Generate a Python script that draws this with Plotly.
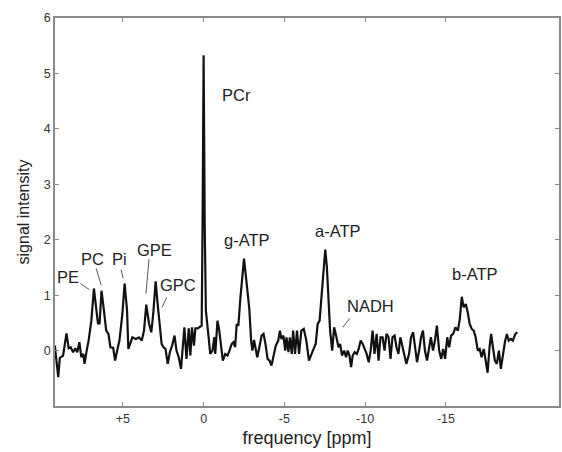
import plotly.graph_objects as go

# 31P spectrum (ppm, signal intensity)
ppm = [9.21, 9.00, 8.90, 8.70, 8.49, 8.35, 8.23, 8.08, 7.94, 7.82,
       7.69, 7.57, 7.45, 7.37, 7.24, 7.12, 6.95, 6.79, 6.65, 6.54,
       6.44, 6.32, 6.17, 6.03, 5.89, 5.77, 5.60, 5.48, 5.35, 5.21,
       5.03, 4.89, 4.74, 4.66, 4.41, 4.20, 4.00, 3.83, 3.69, 3.55,
       3.38, 3.24, 3.12, 2.97, 2.85, 2.73, 2.60, 2.48, 2.36, 2.22,
       2.09, 1.95, 1.80, 1.68, 1.54, 1.40, 1.19, 1.06, 0.92, 0.82,
       0.72, 0.60, 0.51, 0.37, 0.25, 0.12, 0.06, 0.00, -0.07, -0.14,
       -0.31, -0.41, -0.55, -0.66, -0.72, -0.86, -0.97, -1.09, -1.19, -1.34,
       -1.48, -1.60, -1.74, -1.85, -1.95, -2.05, -2.15, -2.28, -2.40, -2.50,
       -2.60, -2.73, -2.83, -2.94, -3.02, -3.12, -3.22, -3.32, -3.45, -3.59,
       -3.71, -3.83, -3.96, -4.08, -4.20, -4.35, -4.47, -4.62, -4.72, -4.82,
       -4.94, -5.05, -5.13, -5.25, -5.34, -5.46, -5.54, -5.66, -5.78, -5.91,
       -6.05, -6.20, -6.36, -6.52, -6.66, -6.81, -6.94, -7.06, -7.18, -7.30,
       -7.43, -7.53, -7.63, -7.74, -7.83, -7.96, -8.08, -8.20, -8.35, -8.45,
       -8.57, -8.70, -8.82, -8.92, -9.03, -9.13, -9.23, -9.35, -9.48, -9.60,
       -9.72, -9.85, -9.97, -10.09, -10.22, -10.34, -10.46, -10.58, -10.71, -10.83,
       -10.95, -11.08, -11.20, -11.32, -11.45, -11.57, -11.69, -11.82, -11.94, -12.06,
       -12.18, -12.31, -12.43, -12.55, -12.72, -12.84, -12.97, -13.09, -13.21, -13.34,
       -13.46, -13.58, -13.70, -13.83, -13.95, -14.07, -14.20, -14.32, -14.44, -14.58,
       -14.71, -14.83, -14.95, -15.08, -15.20, -15.32, -15.45, -15.59, -15.74, -15.86,
       -15.98, -16.10, -16.23, -16.35, -16.47, -16.60, -16.72, -16.84, -16.97, -17.09,
       -17.21, -17.34, -17.46, -17.58, -17.70, -17.80, -17.91, -18.03, -18.15, -18.28,
       -18.40, -18.52, -18.65, -18.77, -18.89, -19.02, -19.14, -19.30, -19.42]

intensity = [0.09, -0.48, -0.13, -0.09, 0.31, 0.04, 0.06, -0.03, 0.04, -0.03,
             0.15, -0.12, -0.06, -0.24, 0.00, 0.18, 0.54, 1.12, 0.76, 0.49,
             0.49, 1.08, 0.72, 0.36, 0.30, 0.06, 0.05, -0.18, 0.00, 0.18,
             0.66, 1.21, 0.72, 0.03, 0.24, 0.21, 0.24, 0.18, 0.36, 0.83,
             0.49, 0.33, 0.66, 1.25, 0.85, 0.42, 0.12, 0.06, 0.03, -0.24,
             -0.03, 0.09, 0.27, 0.00, -0.12, -0.33, 0.42, -0.15, 0.40, -0.09,
             0.42, 0.09, 0.40, 0.40, 0.42, 0.45, 2.50, 5.33, 2.20, 0.72,
             0.24, -0.06, 0.00, 0.24, -0.06, 0.54, 0.36, 0.00, -0.18, -0.06,
             -0.09, 0.00, 0.12, 0.15, 0.06, 0.48, 0.45, 0.96, 1.39, 1.66,
             1.39, 1.02, 0.75, 0.18, 0.00, 0.19, 0.00, -0.12, 0.06, 0.27,
             0.30, 0.12, -0.15, -0.18, -0.27, -0.06, 0.09, 0.18, 0.36, 0.21,
             0.27, 0.00, 0.24, -0.03, 0.24, -0.06, 0.36, -0.06, 0.36, -0.06,
             0.36, 0.39, 0.18, -0.18, -0.06, 0.03, 0.12, 0.48, 0.54, 1.02,
             1.51, 1.82, 1.51, 0.90, 0.36, 0.00, 0.42, 0.27, 0.06, 0.12,
             -0.09, 0.00, -0.12, 0.00, -0.09, -0.30, -0.09, -0.03, -0.06, 0.03,
             0.18, 0.12, 0.03, -0.06, -0.21, 0.00, 0.36, -0.06, 0.30, -0.18,
             0.24, 0.24, 0.00, 0.30, 0.24, -0.15, 0.24, 0.27, 0.06, -0.06,
             0.24, 0.06, -0.06, -0.24, -0.06, 0.24, 0.33, 0.06, -0.21, 0.00,
             0.24, 0.36, 0.00, -0.18, 0.00, 0.24, 0.00, 0.18, 0.45, 0.00,
             -0.15, 0.03, -0.15, 0.24, 0.06, 0.27, 0.30, 0.42, 0.36, 0.57,
             0.97, 0.78, 0.84, 0.69, 0.48, 0.39, 0.36, 0.24, 0.00, 0.03,
             -0.12, 0.03, -0.18, -0.40, 0.06, 0.30, 0.06, -0.18, -0.24, 0.00,
             -0.33, -0.06, 0.15, 0.30, 0.18, 0.21, 0.18, 0.30, 0.33]

x_ticks = [5, 0, -5, -10, -15]
x_tick_text = ["+5", "0", "-5", "-10", "-15"]
y_ticks = [0, 1, 2, 3, 4, 5, 6]

# peak labels: text, label position (ppm, intensity), optional leader line
labels = [
    ("PE", 8.37, 1.32, (7.63, 1.21, 7.08, 1.10)),
    ("PC", 6.89, 1.66, (6.65, 1.48, 6.34, 1.18)),
    ("Pi", 5.23, 1.66, (5.11, 1.46, 4.98, 1.30)),
    ("GPE", 3.02, 1.81, (3.38, 1.65, 3.57, 1.03)),
    ("GPC", 1.60, 1.19, (2.28, 0.96, 2.58, 0.78)),
    ("PCr", -2.03, 4.61, None),
    ("g-ATP", -2.71, 1.99, None),
    ("a-ATP", -8.31, 2.15, None),
    ("NADH", -10.34, 0.81, (-9.05, 0.58, -8.62, 0.42)),
    ("b-ATP", -16.80, 1.39, None),
]

font_family = "Liberation Sans, Arial, sans-serif"

fig = go.Figure()
fig.add_trace(go.Scatter(
    x=ppm,
    y=intensity,
    mode="lines",
    line=dict(color="#111111", width=2.2),
    showlegend=False,
    hoverinfo="skip",
))

for text, lx, ly, leader in labels:
    fig.add_annotation(x=lx, y=ly, text=text, showarrow=False,
                       font=dict(family=font_family, size=16.5, color="#222222"))
    if leader:
        x0, y0, x1, y1 = leader
        fig.add_shape(type="line", x0=x0, y0=y0, x1=x1, y1=y1,
                      line=dict(color="#555555", width=1))

axis_common = dict(
    showline=True, linecolor="#8a8a8a", linewidth=1.5, mirror="ticks",
    ticks="inside", ticklen=4, tickcolor="#8a8a8a", showgrid=False,
    zeroline=False, tickfont=dict(family=font_family, size=12.5, color="#333333"),
)

fig.update_xaxes(range=[9.2, -22.0], tickvals=x_ticks, ticktext=x_tick_text,
                 title=dict(text="frequency [ppm]", standoff=7,
                            font=dict(family=font_family, size=18, color="#222222")),
                 **axis_common)
fig.update_yaxes(range=[-1, 6], tickvals=y_ticks,
                 title=dict(text="signal intensity", standoff=10,
                            font=dict(family=font_family, size=16, color="#222222")),
                 **axis_common)

fig.update_layout(
    width=562, height=452,
    margin=dict(l=55, r=1, t=18, b=46),
    plot_bgcolor="white", paper_bgcolor="white",
)

# drop the page's default body margin so the figure fills the window exactly
fig.write_html("out.html", config={"displayModeBar": False},
               post_script="document.body.style.margin='0';"
                           "document.body.style.overflow='hidden';")
